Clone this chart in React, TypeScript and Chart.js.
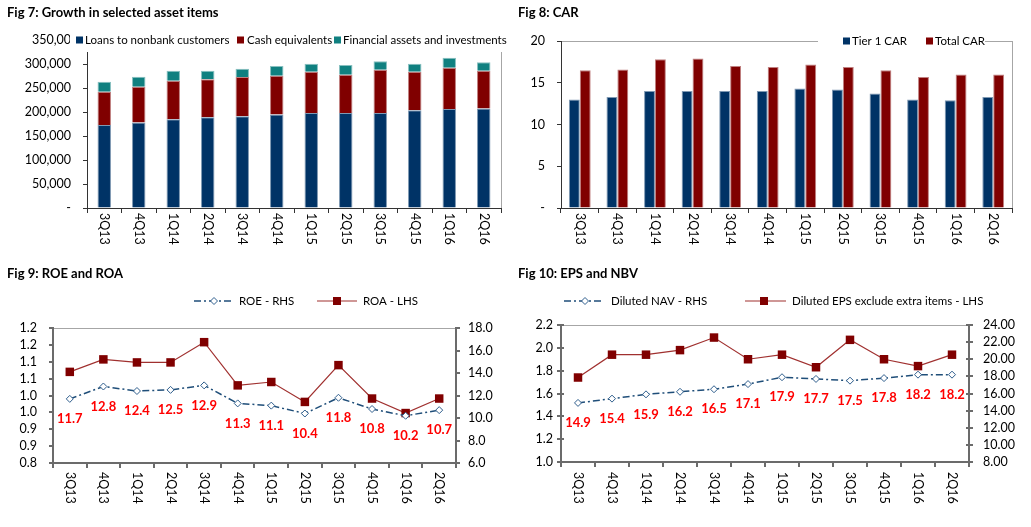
import React, { useEffect, useRef } from "react";
import { Chart, registerables } from "chart.js";

Chart.register(...registerables);

const FONT = "Lato, 'Noto Sans', 'DejaVu Sans', sans-serif";
Chart.defaults.font.family = FONT;

// ---------- data ----------
const categories = ["3Q13", "4Q13", "1Q14", "2Q14", "3Q14", "4Q14", "1Q15", "2Q15", "3Q15", "4Q15", "1Q16", "2Q16"];

// Fig 7
const loans = [173000, 178000, 185000, 189000, 191000, 195000, 198000, 198000, 198000, 203500, 206000, 207500];
const cashEquivalents = [69300, 74800, 80300, 79000, 81900, 80700, 86000, 79800, 90200, 80500, 86300, 78500];
const financialAssets = [20900, 20800, 20700, 18000, 17300, 20100, 16700, 20200, 17400, 16700, 20900, 17500];
const fig7TickLabels = ["-", "50,000", "100,000", "150,000", "200,000", "250,000", "300,000", "350,00"];

// Fig 8
const tier1Car = [13.0, 13.3, 14.0, 14.0, 14.0, 14.0, 14.3, 14.2, 13.7, 13.0, 12.9, 13.3];
const totalCar = [16.5, 16.6, 17.8, 17.9, 17.0, 16.9, 17.2, 16.9, 16.5, 15.7, 16.0, 16.0];
const fig8TickLabels = ["-", "5", "10", "15", "20"];

// Fig 9
const roe = [11.7, 12.8, 12.4, 12.5, 12.9, 11.3, 11.1, 10.4, 11.8, 10.8, 10.2, 10.7];
const roa = [1.07, 1.107, 1.098, 1.098, 1.158, 1.03, 1.04, 0.981, 1.09, 0.991, 0.948, 0.991];
const fig9LeftTicks = ["0.8", "0.9", "0.9", "1.0", "1.0", "1.1", "1.1", "1.2", "1.2"];
const fig9RightTicks = ["6.0", "8.0", "10.0", "12.0", "14.0", "16.0", "18.0"];

// Fig 10
const dilutedNav = [14.9, 15.4, 15.9, 16.2, 16.5, 17.1, 17.9, 17.7, 17.5, 17.8, 18.2, 18.2];
const dilutedEps = [1.74, 1.94, 1.94, 1.98, 2.09, 1.9, 1.94, 1.83, 2.07, 1.9, 1.84, 1.94];
const fig10LeftTicks = ["1.0", "1.2", "1.4", "1.6", "1.8", "2.0", "2.2"];
const fig10RightTicks = ["8.00", "10.00", "12.00", "14.00", "16.00", "18.00", "20.00", "22.00", "24.00"];

// ---------- styles ----------
const NAVY = "#003366";
const MAROON = "#800000";
const TEAL = "#108080";
const BLUE_LINE = "#1F4E79";
const BLUE_MARK = "#2E5D8C";
const RED_LINE = "#A0302F";
const AX1 = "#333333";
const AX2 = "#6B6B6B";
const FRAME = "#A6A6A6";
const TICK_FONT = { size: 12.5, family: FONT };

interface LegendEntry {
  label: string;
  textX: number;
  kind: "box" | "line";
  color: string;
  boxX?: number;
  lineX1?: number;
  lineX2?: number;
  markerX?: number;
  dash?: number[];
  lineWidth?: number;
  marker?: "diamond" | "square";
  markerFill?: string;
  markerStroke?: string;
}

interface DecorOptions {
  title: string;
  titleX: number;
  titleY: number;
  legendY: number;
  legend: LegendEntry[];
  legendBg?: { x: number; y: number; w: number; h: number };
  axisColor: string;
  axisWidth: number;
  xLabelOffset: number;
  innerTick: number;
  dataLabels?: { datasetIndex: number; values: number[]; dy: number };
}

function makeDecor(o: DecorOptions) {
  return {
    id: "decor",
    beforeDraw(chart: any) {
      const { ctx, chartArea: a } = chart;
      ctx.save();
      ctx.strokeStyle = FRAME;
      ctx.lineWidth = 1;
      ctx.strokeRect(
        Math.round(a.left) + 0.5,
        Math.round(a.top) + 0.5,
        Math.round(a.right - a.left),
        Math.round(a.bottom - a.top)
      );
      ctx.restore();
    },
    afterDatasetsDraw(chart: any) {
      const dl = o.dataLabels;
      if (!dl) return;
      const { ctx } = chart;
      const meta = chart.getDatasetMeta(dl.datasetIndex);
      ctx.save();
      ctx.font = `bold 13px ${FONT}`;
      ctx.fillStyle = "#FF0000";
      ctx.textAlign = "center";
      ctx.textBaseline = "middle";
      meta.data.forEach((pt: any, i: number) => {
        ctx.fillText(dl.values[i].toFixed(1), pt.x, pt.y + dl.dy);
      });
      ctx.restore();
    },
    afterDraw(chart: any) {
      const { ctx, chartArea: a } = chart;
      ctx.save();
      // inner tick parts on y axes
      if (o.innerTick > 0) {
        ctx.strokeStyle = o.axisColor;
        ctx.lineWidth = o.axisWidth;
        Object.values(chart.scales).forEach((s: any) => {
          if (s.axis !== "y") return;
          const left = s.position === "left";
          const x0 = left ? a.left : a.right;
          const dir = left ? 1 : -1;
          s.ticks.forEach((_t: any, i: number) => {
            const y = Math.round(s.getPixelForTick(i));
            ctx.beginPath();
            ctx.moveTo(x0, y);
            ctx.lineTo(x0 + dir * o.innerTick, y);
            ctx.stroke();
          });
        });
      }
      // rotated category labels (read top to bottom)
      const xs = chart.scales.x;
      ctx.font = `12.5px ${FONT}`;
      ctx.fillStyle = "#000";
      ctx.textAlign = "left";
      ctx.textBaseline = "middle";
      (chart.data.labels as string[]).forEach((lab, i) => {
        const x = xs.getPixelForValue(i);
        ctx.save();
        ctx.translate(x, a.bottom + o.xLabelOffset);
        ctx.rotate(Math.PI / 2);
        ctx.fillText(lab, 0, 0);
        ctx.restore();
      });
      // legend
      if (o.legendBg) {
        ctx.fillStyle = "#fff";
        ctx.fillRect(o.legendBg.x, o.legendBg.y, o.legendBg.w, o.legendBg.h);
      }
      const y = o.legendY;
      o.legend.forEach((e) => {
        if (e.kind === "box") {
          ctx.fillStyle = e.color;
          ctx.fillRect(e.boxX!, y - 3.5, 7, 7);
        } else {
          ctx.save();
          ctx.strokeStyle = e.color;
          ctx.lineWidth = e.lineWidth || 1;
          ctx.setLineDash(e.dash || []);
          ctx.beginPath();
          ctx.moveTo(e.lineX1!, y);
          ctx.lineTo(e.lineX2!, y);
          ctx.stroke();
          ctx.restore();
          const mx = e.markerX!;
          if (e.marker === "diamond") {
            const r = 3.5;
            ctx.beginPath();
            ctx.moveTo(mx, y - r);
            ctx.lineTo(mx + r, y);
            ctx.lineTo(mx, y + r);
            ctx.lineTo(mx - r, y);
            ctx.closePath();
            ctx.fillStyle = e.markerFill || "#fff";
            ctx.fill();
            ctx.strokeStyle = e.markerStroke || e.color;
            ctx.lineWidth = 1;
            ctx.stroke();
          } else {
            ctx.fillStyle = e.markerFill || e.color;
            ctx.fillRect(mx - 4, y - 4, 8, 8);
          }
        }
        ctx.fillStyle = "#000";
        ctx.font = `11.5px ${FONT}`;
        ctx.textAlign = "left";
        ctx.textBaseline = "middle";
        ctx.fillText(e.label, e.textX, y);
      });
      // title
      ctx.font = `bold 13px ${FONT}`;
      ctx.fillStyle = "#000";
      ctx.textAlign = "left";
      ctx.textBaseline = "alphabetic";
      ctx.fillText(o.title, o.titleX, o.titleY);
      ctx.restore();
    },
  };
}

function xScale(axisColor: string, axisWidth: number, height: number) {
  return {
    type: "category",
    offset: true,
    grid: {
      display: true,
      offset: true,
      drawOnChartArea: false,
      drawTicks: true,
      tickLength: 5,
      color: axisColor,
      lineWidth: axisWidth,
    },
    border: { display: true, color: axisColor, width: axisWidth },
    ticks: { display: false },
    afterFit: (s: any) => {
      s.height = height;
    },
  };
}

function yScale(opts: {
  position: "left" | "right";
  min: number;
  max: number;
  step: number;
  labels: string[];
  padding: number;
  width: number;
  axisColor: string;
  axisWidth: number;
  stacked?: boolean;
}) {
  return {
    type: "linear",
    position: opts.position,
    stacked: opts.stacked || false,
    min: opts.min,
    max: opts.max,
    ticks: {
      stepSize: opts.step,
      autoSkip: false,
      callback: (_v: any, i: number) => opts.labels[i],
      font: TICK_FONT,
      color: "#000",
      padding: opts.padding,
    },
    grid: {
      display: true,
      drawOnChartArea: false,
      drawTicks: true,
      tickLength: 4,
      color: opts.axisColor,
      lineWidth: opts.axisWidth,
    },
    border: { display: true, color: opts.axisColor, width: opts.axisWidth },
    afterFit: (s: any) => {
      s.width = opts.width;
    },
  };
}

const baseOptions = (padding: any) => ({
  responsive: false,
  animation: false,
  devicePixelRatio: 1,
  layout: { padding },
  plugins: {
    legend: { display: false },
    tooltip: { enabled: false },
    title: { display: false },
  },
});

function fig7Config(): any {
  return {
    type: "bar",
    data: {
      labels: categories,
      datasets: [
        { label: "Loans to nonbank customers", data: loans, backgroundColor: NAVY, borderColor: "#7F99B3", borderWidth: 1, barPercentage: 0.39, categoryPercentage: 1 },
        { label: "Cash equivalents", data: cashEquivalents, backgroundColor: MAROON, borderColor: "#C08080", borderWidth: 1, barPercentage: 0.39, categoryPercentage: 1 },
        { label: "Financial assets and investments", data: financialAssets, backgroundColor: TEAL, borderColor: "#88C0C0", borderWidth: 1, barPercentage: 0.39, categoryPercentage: 1 },
      ],
    },
    options: {
      ...baseOptions({ top: 40, right: 14, left: 0, bottom: 0 }),
      scales: {
        x: { ...xScale(AX1, 1, 42), stacked: true },
        y: yScale({ position: "left", min: 0, max: 350000, step: 50000, labels: fig7TickLabels, padding: 12, width: 87, axisColor: AX1, axisWidth: 1, stacked: true }),
      },
    },
    plugins: [
      makeDecor({
        title: "Fig 7: Growth in selected asset items",
        titleX: 7,
        titleY: 17,
        legendY: 40,
        legendBg: { x: 70, y: 29, w: 445, h: 23 },
        legend: [
          { kind: "box", color: NAVY, boxX: 76, textX: 85, label: "Loans to nonbank customers" },
          { kind: "box", color: MAROON, boxX: 237, textX: 247, label: "Cash equivalents" },
          { kind: "box", color: TEAL, boxX: 334, textX: 343, label: "Financial assets and investments" },
        ],
        axisColor: AX1,
        axisWidth: 1,
        xLabelOffset: 5,
        innerTick: 0,
      }),
    ],
  };
}

function fig8Config(): any {
  return {
    type: "bar",
    data: {
      labels: categories,
      datasets: [
        { label: "Tier 1 CAR", data: tier1Car, backgroundColor: NAVY, borderColor: "#7F99B3", borderWidth: 1, barPercentage: 1, categoryPercentage: 0.58 },
        { label: "Total CAR", data: totalCar, backgroundColor: MAROON, borderColor: "#C08080", borderWidth: 1, barPercentage: 1, categoryPercentage: 0.58 },
      ],
    },
    options: {
      ...baseOptions({ top: 41, right: 19, left: 0, bottom: 0 }),
      scales: {
        x: xScale(AX1, 1, 42),
        y: yScale({ position: "left", min: 0, max: 20, step: 5, labels: fig8TickLabels, padding: 12, width: 46, axisColor: AX1, axisWidth: 1 }),
      },
    },
    plugins: [
      makeDecor({
        title: "Fig 8: CAR",
        titleX: 3,
        titleY: 17,
        legendY: 41,
        legendBg: { x: 303, y: 30, w: 167, h: 22 },
        legend: [
          { kind: "box", color: NAVY, boxX: 328, textX: 337, label: "Tier 1 CAR" },
          { kind: "box", color: MAROON, boxX: 411, textX: 420, label: "Total CAR" },
        ],
        axisColor: AX1,
        axisWidth: 1,
        xLabelOffset: 5,
        innerTick: 0,
      }),
    ],
  };
}

function lineDatasets(blueLabel: string, blueData: number[], redLabel: string, redData: number[]) {
  return [
    {
      label: blueLabel,
      data: blueData,
      yAxisID: "y1",
      borderColor: BLUE_LINE,
      borderWidth: 1.5,
      borderDash: [7, 3, 2, 3],
      pointStyle: "rectRot",
      pointRadius: 3.5,
      pointBackgroundColor: "#fff",
      pointBorderColor: BLUE_MARK,
      pointBorderWidth: 1,
      tension: 0,
      fill: false,
    },
    {
      label: redLabel,
      data: redData,
      yAxisID: "y",
      borderColor: RED_LINE,
      borderWidth: 1.2,
      pointStyle: "rect",
      pointRadius: 6,
      pointBackgroundColor: MAROON,
      pointBorderColor: MAROON,
      pointBorderWidth: 0,
      tension: 0,
      fill: false,
    },
  ];
}

function fig9Config(): any {
  return {
    type: "line",
    data: { labels: categories, datasets: lineDatasets("ROE - RHS", roe, "ROA - LHS", roa) },
    options: {
      ...baseOptions({ top: 73, right: 0, left: 0, bottom: 0 }),
      scales: {
        x: xScale(AX2, 2, 64),
        y: yScale({ position: "left", min: 0.8, max: 1.2, step: 0.05, labels: fig9LeftTicks, padding: 12, width: 53, axisColor: AX2, axisWidth: 2 }),
        y1: yScale({ position: "right", min: 6, max: 18, step: 2, labels: fig9RightTicks, padding: 8, width: 59, axisColor: AX2, axisWidth: 2 }),
      },
    },
    plugins: [
      makeDecor({
        title: "Fig 9: ROE and ROA",
        titleX: 7,
        titleY: 23,
        legendY: 46,
        legend: [
          { kind: "line", color: BLUE_LINE, lineX1: 194, lineX2: 231, markerX: 214, dash: [7, 3, 2, 3], lineWidth: 1.5, marker: "diamond", markerFill: "#fff", markerStroke: BLUE_MARK, textX: 239, label: "ROE - RHS" },
          { kind: "line", color: RED_LINE, lineX1: 317, lineX2: 357, markerX: 337, lineWidth: 1.2, marker: "square", markerFill: MAROON, textX: 363, label: "ROA - LHS" },
        ],
        axisColor: AX2,
        axisWidth: 2,
        xLabelOffset: 9,
        innerTick: 0,
        dataLabels: { datasetIndex: 0, values: roe, dy: 20 },
      }),
    ],
  };
}

function fig10Config(): any {
  return {
    type: "line",
    data: { labels: categories, datasets: lineDatasets("Diluted NAV - RHS", dilutedNav, "Diluted EPS exclude extra items - LHS", dilutedEps) },
    options: {
      ...baseOptions({ top: 70, right: 0, left: 0, bottom: 0 }),
      scales: {
        x: xScale(AX2, 2, 65),
        y: yScale({ position: "left", min: 1.0, max: 2.2, step: 0.2, labels: fig10LeftTicks, padding: 4, width: 46, axisColor: AX2, axisWidth: 2 }),
        y1: yScale({ position: "right", min: 8, max: 24, step: 2, labels: fig10RightTicks, padding: 10, width: 62, axisColor: AX2, axisWidth: 2 }),
      },
    },
    plugins: [
      makeDecor({
        title: "Fig 10: EPS and NBV",
        titleX: 3,
        titleY: 23,
        legendY: 46,
        legend: [
          { kind: "line", color: BLUE_LINE, lineX1: 49, lineX2: 87, markerX: 70, dash: [7, 3, 2, 3], lineWidth: 1.5, marker: "diamond", markerFill: "#fff", markerStroke: BLUE_MARK, textX: 96, label: "Diluted NAV - RHS" },
          { kind: "line", color: RED_LINE, lineX1: 230, lineX2: 271, markerX: 249, lineWidth: 1.2, marker: "square", markerFill: MAROON, textX: 277, label: "Diluted EPS exclude extra items - LHS" },
        ],
        axisColor: AX2,
        axisWidth: 2,
        xLabelOffset: 10,
        innerTick: 3,
        dataLabels: { datasetIndex: 0, values: dilutedNav, dy: 20 },
      }),
    ],
  };
}

function ChartCanvas(props: { left: number; top: number; width: number; height: number; make: () => any }) {
  const ref = useRef<HTMLCanvasElement | null>(null);
  useEffect(() => {
    if (!ref.current) return;
    const chart = new Chart(ref.current, props.make());
    return () => chart.destroy();
  }, []);
  return (
    <canvas
      ref={ref}
      width={props.width}
      height={props.height}
      style={{ position: "absolute", left: props.left, top: props.top, width: props.width, height: props.height }}
    />
  );
}

export default function App() {
  return (
    <div style={{ position: "absolute", left: 0, top: 0, width: 1031, height: 527, background: "#fff", overflow: "hidden" }}>
      <ChartCanvas left={0} top={0} width={515} height={250} make={fig7Config} />
      <ChartCanvas left={515} top={0} width={516} height={250} make={fig8Config} />
      <ChartCanvas left={0} top={255} width={515} height={272} make={fig9Config} />
      <ChartCanvas left={515} top={255} width={516} height={272} make={fig10Config} />
    </div>
  );
}
